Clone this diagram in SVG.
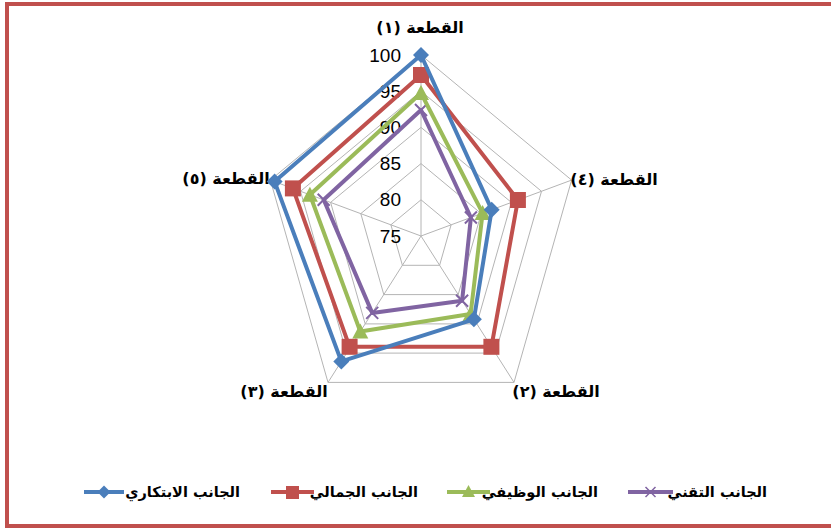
<svg xmlns="http://www.w3.org/2000/svg" xmlns:xlink="http://www.w3.org/1999/xlink" width="831" height="528" viewBox="0 0 831 528">
<style>
.grid{fill:none;stroke:#b4b4b4;stroke-width:1}
.ser{fill:none;stroke-width:4;stroke-linejoin:round}
.lbl{font-family:"DejaVu Sans","Liberation Sans",sans-serif;font-weight:bold;font-size:16px;fill:#000}
.val{font-family:"Liberation Sans",Arial,sans-serif;font-size:19px;fill:#000}
.leg{font-family:"DejaVu Sans","Liberation Sans",sans-serif;font-weight:bold;font-size:14.5px;fill:#000}
</style>
<defs>
<path id="dia" d="M0,-8 L8,0 L0,8 L-8,0 Z" fill="#4a7ebb"/>
<rect id="sq" x="-8" y="-8" width="16" height="16" fill="#c0504d"/>
<path id="tri" d="M0,-8 L8,7 L-8,7 Z" fill="#9bbb59"/>
<path id="xx" d="M-6,-6 L6,6 M6,-6 L-6,6" stroke="#8064a2" stroke-width="2" fill="none"/>
</defs>
<rect x="0" y="0" width="831" height="528" fill="#fff"/>
<rect x="7" y="4" width="830" height="522" fill="none" stroke="#c0504d" stroke-width="4"/>
<g id="grid">
<polygon class="grid" points="421,55 571.6,180.1 514,382.4 328,382.4 270.4,180.1"/>
<polygon class="grid" points="421,91.2 541.5,191.3 495.4,353.1 346.6,353.1 300.5,191.3"/>
<polygon class="grid" points="421,127.4 511.4,202.4 476.8,323.9 365.2,323.9 330.6,202.4"/>
<polygon class="grid" points="421,163.6 481.2,213.6 458.2,294.6 383.8,294.6 360.8,213.6"/>
<polygon class="grid" points="421,199.8 451.1,224.8 439.6,265.3 402.4,265.3 390.9,224.8"/>
<path class="grid" d="M421,236 L421,55 M421,236 L571.6,180.1 M421,236 L514,382.4 M421,236 L328,382.4 M421,236 L270.4,180.1"/>
</g>
<g id="scale">
<text class="val" x="401" y="62" text-anchor="end">100</text>
<text class="val" x="401" y="98" text-anchor="end">95</text>
<text class="val" x="401" y="134" text-anchor="end">90</text>
<text class="val" x="401" y="170" text-anchor="end">85</text>
<text class="val" x="401" y="206" text-anchor="end">80</text>
<text class="val" x="401" y="243" text-anchor="end">75</text>
</g>
<g id="axis-labels">
<text id="l1" class="lbl" x="420" y="33" text-anchor="middle" direction="rtl">القطعة (١)</text>
<text id="l4" class="lbl" x="614" y="185" text-anchor="middle" direction="rtl">القطعة (٤)</text>
<text id="l2" class="lbl" x="556" y="397" text-anchor="middle" direction="rtl">القطعة (٢)</text>
<text id="l3" class="lbl" x="284" y="397" text-anchor="middle" direction="rtl">القطعة (٣)</text>
<text id="l5" class="lbl" x="226" y="184" text-anchor="middle" direction="rtl">القطعة (٥)</text>
</g>
<g id="series">
<g id="s-tech">
<polygon class="ser" stroke="#8064a2" points="421,110 470.9,217.5 462.1,300.7 372.2,312.9 323.7,199.8"/>
<use xlink:href="#xx" x="421" y="110"/><use xlink:href="#xx" x="470.9" y="217.5"/><use xlink:href="#xx" x="462.1" y="300.7"/><use xlink:href="#xx" x="372.2" y="312.9"/><use xlink:href="#xx" x="323.7" y="199.8"/>
</g>
<g id="s-func">
<polygon class="ser" stroke="#9bbb59" points="421,93 482.6,213.1 470.6,314.1 360.3,331.5 309.9,194.7"/>
<use xlink:href="#tri" x="421" y="93"/><use xlink:href="#tri" x="482.6" y="213.1"/><use xlink:href="#tri" x="470.6" y="314.1"/><use xlink:href="#tri" x="360.3" y="331.5"/><use xlink:href="#tri" x="309.9" y="194.7"/>
</g>
<g id="s-aes">
<polygon class="ser" stroke="#c0504d" points="421,75 517.9,200 491.4,346.8 349.6,346.8 292.9,188.4"/>
<use xlink:href="#sq" x="421" y="75"/><use xlink:href="#sq" x="517.9" y="200"/><use xlink:href="#sq" x="491.4" y="346.8"/><use xlink:href="#sq" x="349.6" y="346.8"/><use xlink:href="#sq" x="292.9" y="188.4"/>
</g>
<g id="s-inn">
<polygon class="ser" stroke="#4a7ebb" points="421,55 491.7,209.7 473.9,319.3 341.3,361.4 274.6,181.6"/>
<use xlink:href="#dia" x="421" y="55"/><use xlink:href="#dia" x="491.7" y="209.7"/><use xlink:href="#dia" x="473.9" y="319.3"/><use xlink:href="#dia" x="341.3" y="361.4"/><use xlink:href="#dia" x="274.6" y="181.6"/>
</g>
</g>
<g id="legend">
<g id="leg-inn">
<line x1="84" y1="492" x2="124" y2="492" stroke="#4a7ebb" stroke-width="4"/>
<path d="M104,485.5 L110.5,492 L104,498.5 L97.5,492 Z" fill="#4a7ebb"/>
<text class="leg" x="240" y="497" text-anchor="end">الجانب الابتكاري</text>
</g>
<g id="leg-aes">
<line x1="271" y1="492" x2="314" y2="492" stroke="#c0504d" stroke-width="4"/>
<rect x="286" y="486" width="13" height="13" fill="#c0504d"/>
<text class="leg" x="418" y="497" text-anchor="end">الجانب الجمالي</text>
</g>
<g id="leg-func">
<line x1="447" y1="492" x2="490" y2="492" stroke="#9bbb59" stroke-width="4"/>
<path d="M468.5,485 L475,497 L462,497 Z" fill="#9bbb59"/>
<text class="leg" x="598" y="497" text-anchor="end">الجانب الوظيفي</text>
</g>
<g id="leg-tech">
<line x1="628" y1="492" x2="673" y2="492" stroke="#8064a2" stroke-width="4"/>
<path d="M645.5,487 L655.5,497 M655.5,487 L645.5,497" stroke="#8064a2" stroke-width="1.5"/>
<text class="leg" x="767" y="497" text-anchor="end">الجانب التقني</text>
</g>
</g>
</svg>
